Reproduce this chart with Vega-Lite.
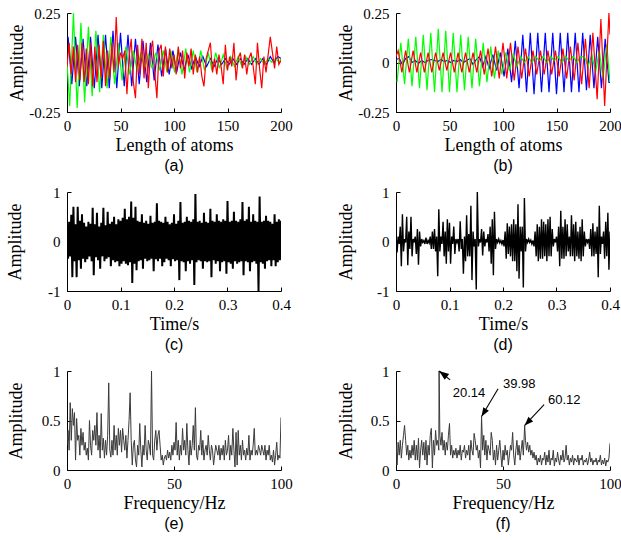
{
"$schema":"https://vega.github.io/schema/vega-lite/v6.json",
"background":"white",
"padding":{"left":6,"top":6,"right":0,"bottom":0},
"config":{
 "font":"Liberation Serif",
 "locale":{"number":{"decimal":".","thousands":",","grouping":[3],"currency":["$",""],"minus":"-"}},
 "view":{"stroke":null},
 "axis":{"grid":false,"domainColor":"#000","domainWidth":1,"tickColor":"#000","tickSize":-4,"tickWidth":1,"labelFont":"Liberation Serif","labelFontSize":15,"labelColor":"#000","titleFont":"Liberation Serif","titleFontSize":18,"titleFontWeight":"normal","titleColor":"#000","labelFlush":false,"labelOverlap":false},
 "axisX":{"labelPadding":10,"titlePadding":3},
 "axisY":{"labelPadding":11},
 "title":{"orient":"bottom","frame":"group","anchor":"middle","font":"Liberation Sans","fontSize":16,"fontWeight":"normal","color":"#000","offset":0}
},
"columns":2,
"spacing":{"row":11,"column":44},
"datasets":{
"a":[
{"x":1,"y":0.13,"s":"b"},{"x":4.5,"y":-0.11,"s":"b"},{"x":8,"y":0.13,"s":"b"},{"x":11.5,"y":-0.12,"s":"b"},{"x":15,"y":0.12,"s":"b"},{"x":18.5,"y":-0.12,"s":"b"},{"x":22,"y":0.13,"s":"b"},{"x":25.5,"y":-0.13,"s":"b"},{"x":29,"y":0.14,"s":"b"},{"x":32.5,"y":-0.13,"s":"b"},{"x":36,"y":0.14,"s":"b"},{"x":39.5,"y":-0.13,"s":"b"},{"x":43,"y":0.16,"s":"b"},{"x":46.5,"y":-0.13,"s":"b"},{"x":50,"y":0.15,"s":"b"},{"x":53.5,"y":-0.12,"s":"b"},{"x":57,"y":0.14,"s":"b"},{"x":60.5,"y":-0.12,"s":"b"},{"x":64,"y":0.12,"s":"b"},{"x":67.5,"y":-0.11,"s":"b"},{"x":71,"y":0.11,"s":"b"},{"x":74.5,"y":-0.1,"s":"b"},{"x":78,"y":0.1,"s":"b"},{"x":81.5,"y":-0.09,"s":"b"},{"x":85,"y":0.09,"s":"b"},{"x":88.5,"y":-0.07,"s":"b"},{"x":92,"y":0.07,"s":"b"},{"x":95.5,"y":-0.06,"s":"b"},{"x":99,"y":0.06,"s":"b"},{"x":102.5,"y":-0.05,"s":"b"},{"x":106,"y":0.05,"s":"b"},{"x":109.5,"y":-0.04,"s":"b"},{"x":113,"y":0.04,"s":"b"},{"x":116.5,"y":-0.03,"s":"b"},{"x":120,"y":0.03,"s":"b"},{"x":123.5,"y":-0.02,"s":"b"},{"x":127,"y":0.03,"s":"b"},{"x":130.5,"y":-0.02,"s":"b"},{"x":134,"y":0.02,"s":"b"},{"x":137.5,"y":-0.02,"s":"b"},{"x":141,"y":0.02,"s":"b"},{"x":144.5,"y":-0.01,"s":"b"},{"x":148,"y":0.02,"s":"b"},{"x":151.5,"y":-0.01,"s":"b"},{"x":155,"y":0.02,"s":"b"},{"x":158.5,"y":-0.01,"s":"b"},{"x":162,"y":0.02,"s":"b"},{"x":165.5,"y":-0.01,"s":"b"},{"x":169,"y":0.02,"s":"b"},{"x":172.5,"y":-0.01,"s":"b"},{"x":176,"y":0.02,"s":"b"},{"x":179.5,"y":-0.01,"s":"b"},{"x":183,"y":0.02,"s":"b"},{"x":186.5,"y":-0.01,"s":"b"},{"x":190,"y":0.03,"s":"b"},{"x":193.5,"y":0,"s":"b"},{"x":197,"y":0.03,"s":"b"},{"x":200,"y":0.02,"s":"b"},
{"x":0,"y":0,"s":"g"},{"x":2.5,"y":-0.22,"s":"g"},{"x":6,"y":0.25,"s":"g"},{"x":9.5,"y":-0.23,"s":"g"},{"x":13,"y":0.2,"s":"g"},{"x":16.5,"y":-0.2,"s":"g"},{"x":20,"y":0.18,"s":"g"},{"x":23.5,"y":-0.17,"s":"g"},{"x":27,"y":0.16,"s":"g"},{"x":30.5,"y":-0.15,"s":"g"},{"x":34,"y":0.14,"s":"g"},{"x":37.5,"y":-0.13,"s":"g"},{"x":41,"y":0.13,"s":"g"},{"x":44.5,"y":-0.11,"s":"g"},{"x":48,"y":0.1,"s":"g"},{"x":51.5,"y":-0.09,"s":"g"},{"x":55,"y":0.08,"s":"g"},{"x":58.5,"y":-0.06,"s":"g"},{"x":62,"y":0.06,"s":"g"},{"x":65.5,"y":-0.04,"s":"g"},{"x":69,"y":0.05,"s":"g"},{"x":72.5,"y":-0.03,"s":"g"},{"x":76,"y":0.04,"s":"g"},{"x":79.5,"y":-0.03,"s":"g"},{"x":83,"y":0.05,"s":"g"},{"x":86.5,"y":-0.04,"s":"g"},{"x":90,"y":0.06,"s":"g"},{"x":93.5,"y":-0.05,"s":"g"},{"x":97,"y":0.06,"s":"g"},{"x":100.5,"y":-0.05,"s":"g"},{"x":104,"y":0.07,"s":"g"},{"x":107.5,"y":-0.06,"s":"g"},{"x":111,"y":0.07,"s":"g"},{"x":114.5,"y":-0.05,"s":"g"},{"x":118,"y":0.06,"s":"g"},{"x":121.5,"y":-0.05,"s":"g"},{"x":125,"y":0.06,"s":"g"},{"x":128.5,"y":-0.04,"s":"g"},{"x":132,"y":0.05,"s":"g"},{"x":135.5,"y":-0.04,"s":"g"},{"x":139,"y":0.05,"s":"g"},{"x":142.5,"y":-0.03,"s":"g"},{"x":146,"y":0.04,"s":"g"},{"x":149.5,"y":-0.03,"s":"g"},{"x":153,"y":0.03,"s":"g"},{"x":156.5,"y":-0.02,"s":"g"},{"x":160,"y":0.03,"s":"g"},{"x":163.5,"y":-0.02,"s":"g"},{"x":167,"y":0.03,"s":"g"},{"x":170.5,"y":-0.01,"s":"g"},{"x":174,"y":0.03,"s":"g"},{"x":177.5,"y":-0.01,"s":"g"},{"x":181,"y":0.02,"s":"g"},{"x":184.5,"y":-0.01,"s":"g"},{"x":188,"y":0.02,"s":"g"},{"x":191.5,"y":0,"s":"g"},{"x":195,"y":0.02,"s":"g"},{"x":198.5,"y":0,"s":"g"},{"x":200,"y":0.02,"s":"g"},
{"x":0,"y":-0.02,"s":"r"},{"x":2,"y":0.1,"s":"r"},{"x":4,"y":-0.06,"s":"r"},{"x":6,"y":0.08,"s":"r"},{"x":8,"y":-0.1,"s":"r"},{"x":10,"y":0.09,"s":"r"},{"x":12,"y":-0.09,"s":"r"},{"x":14,"y":0.1,"s":"r"},{"x":16,"y":-0.1,"s":"r"},{"x":18,"y":0.07,"s":"r"},{"x":20,"y":-0.11,"s":"r"},{"x":22,"y":0.1,"s":"r"},{"x":24,"y":-0.12,"s":"r"},{"x":26,"y":0.08,"s":"r"},{"x":28,"y":-0.1,"s":"r"},{"x":30,"y":0.09,"s":"r"},{"x":32,"y":-0.08,"s":"r"},{"x":34,"y":0.11,"s":"r"},{"x":36,"y":-0.12,"s":"r"},{"x":38,"y":0.06,"s":"r"},{"x":40,"y":-0.08,"s":"r"},{"x":42,"y":0.1,"s":"r"},{"x":44,"y":-0.05,"s":"r"},{"x":46,"y":0.23,"s":"r"},{"x":48,"y":-0.02,"s":"r"},{"x":50,"y":0.05,"s":"r"},{"x":52,"y":0.02,"s":"r"},{"x":54,"y":0.06,"s":"r"},{"x":56,"y":-0.16,"s":"r"},{"x":58,"y":0.03,"s":"r"},{"x":60,"y":0.12,"s":"r"},{"x":62,"y":-0.1,"s":"r"},{"x":64,"y":-0.18,"s":"r"},{"x":66,"y":0.09,"s":"r"},{"x":68,"y":-0.06,"s":"r"},{"x":70,"y":0.12,"s":"r"},{"x":72,"y":-0.08,"s":"r"},{"x":74,"y":0.1,"s":"r"},{"x":76,"y":-0.13,"s":"r"},{"x":78,"y":0.05,"s":"r"},{"x":80,"y":0.11,"s":"r"},{"x":82,"y":-0.05,"s":"r"},{"x":84,"y":-0.18,"s":"r"},{"x":86,"y":0.06,"s":"r"},{"x":88,"y":0.09,"s":"r"},{"x":90,"y":-0.07,"s":"r"},{"x":92,"y":0.08,"s":"r"},{"x":94,"y":-0.05,"s":"r"},{"x":96,"y":0.07,"s":"r"},{"x":98,"y":-0.03,"s":"r"},{"x":100,"y":0.04,"s":"r"},{"x":102,"y":-0.06,"s":"r"},{"x":104,"y":0.08,"s":"r"},{"x":106,"y":-0.03,"s":"r"},{"x":108,"y":0.06,"s":"r"},{"x":110,"y":-0.08,"s":"r"},{"x":112,"y":0.05,"s":"r"},{"x":114,"y":-0.02,"s":"r"},{"x":116,"y":0.07,"s":"r"},{"x":118,"y":-0.06,"s":"r"},{"x":120,"y":0.04,"s":"r"},{"x":122,"y":-0.05,"s":"r"},{"x":124,"y":0.03,"s":"r"},{"x":126,"y":-0.07,"s":"r"},{"x":128,"y":-0.12,"s":"r"},{"x":130,"y":0.02,"s":"r"},{"x":132,"y":0.06,"s":"r"},{"x":134,"y":0.1,"s":"r"},{"x":136,"y":-0.05,"s":"r"},{"x":138,"y":0.02,"s":"r"},{"x":140,"y":-0.06,"s":"r"},{"x":142,"y":0.04,"s":"r"},{"x":144,"y":-0.02,"s":"r"},{"x":146,"y":-0.11,"s":"r"},{"x":148,"y":0.09,"s":"r"},{"x":150,"y":-0.04,"s":"r"},{"x":152,"y":0.03,"s":"r"},{"x":154,"y":-0.02,"s":"r"},{"x":156,"y":0.1,"s":"r"},{"x":158,"y":-0.09,"s":"r"},{"x":160,"y":0.02,"s":"r"},{"x":162,"y":0.05,"s":"r"},{"x":164,"y":-0.03,"s":"r"},{"x":166,"y":0.04,"s":"r"},{"x":168,"y":-0.06,"s":"r"},{"x":170,"y":0.02,"s":"r"},{"x":172,"y":0.05,"s":"r"},{"x":174,"y":-0.02,"s":"r"},{"x":176,"y":-0.11,"s":"r"},{"x":178,"y":0.1,"s":"r"},{"x":180,"y":-0.03,"s":"r"},{"x":182,"y":-0.13,"s":"r"},{"x":184,"y":0.03,"s":"r"},{"x":186,"y":-0.05,"s":"r"},{"x":188,"y":0.04,"s":"r"},{"x":190,"y":0.13,"s":"r"},{"x":192,"y":0.05,"s":"r"},{"x":194,"y":-0.03,"s":"r"},{"x":196,"y":0.08,"s":"r"},{"x":198,"y":-0.01,"s":"r"},{"x":200,"y":0.01,"s":"r"}
],
"b":[
{"x":0,"y":0.015,"s":"b"},{"x":3,"y":0.02,"s":"b"},{"x":6,"y":-0.01,"s":"b"},{"x":9,"y":0.02,"s":"b"},{"x":12,"y":0.03,"s":"b"},{"x":15,"y":0,"s":"b"},{"x":18,"y":0.01,"s":"b"},{"x":21,"y":-0.005,"s":"b"},{"x":24,"y":0.01,"s":"b"},{"x":27,"y":0,"s":"b"},{"x":30,"y":0.01,"s":"b"},{"x":33,"y":0.015,"s":"b"},{"x":36,"y":0.01,"s":"b"},{"x":39,"y":0.005,"s":"b"},{"x":42,"y":0.015,"s":"b"},{"x":45,"y":0.005,"s":"b"},{"x":48,"y":0.01,"s":"b"},{"x":51,"y":0,"s":"b"},{"x":54,"y":0.01,"s":"b"},{"x":57,"y":0.005,"s":"b"},{"x":60,"y":0.015,"s":"b"},{"x":63,"y":0,"s":"b"},{"x":66,"y":0.01,"s":"b"},{"x":69,"y":0.02,"s":"b"},{"x":72,"y":-0.01,"s":"b"},{"x":75,"y":0.015,"s":"b"},{"x":78,"y":0.03,"s":"b"},{"x":81,"y":-0.02,"s":"b"},{"x":84,"y":0.03,"s":"b"},{"x":87,"y":-0.03,"s":"b"},{"x":90.5,"y":0.04,"s":"b"},{"x":94,"y":-0.04,"s":"b"},{"x":97.5,"y":0.05,"s":"b"},{"x":101,"y":-0.07,"s":"b"},{"x":104.5,"y":0.07,"s":"b"},{"x":108,"y":-0.1,"s":"b"},{"x":111.5,"y":0.11,"s":"b"},{"x":115,"y":-0.13,"s":"b"},{"x":118.5,"y":0.14,"s":"b"},{"x":122,"y":-0.15,"s":"b"},{"x":125.5,"y":0.15,"s":"b"},{"x":129,"y":-0.16,"s":"b"},{"x":132.5,"y":0.15,"s":"b"},{"x":136,"y":-0.15,"s":"b"},{"x":139.5,"y":0.15,"s":"b"},{"x":143,"y":-0.15,"s":"b"},{"x":146.5,"y":0.15,"s":"b"},{"x":150,"y":-0.16,"s":"b"},{"x":153.5,"y":0.15,"s":"b"},{"x":157,"y":-0.15,"s":"b"},{"x":160.5,"y":0.15,"s":"b"},{"x":164,"y":-0.15,"s":"b"},{"x":167.5,"y":0.15,"s":"b"},{"x":171,"y":-0.15,"s":"b"},{"x":174.5,"y":0.15,"s":"b"},{"x":178,"y":-0.14,"s":"b"},{"x":181.5,"y":0.14,"s":"b"},{"x":185,"y":-0.13,"s":"b"},{"x":188.5,"y":0.13,"s":"b"},{"x":192,"y":-0.13,"s":"b"},{"x":195.5,"y":0.12,"s":"b"},{"x":199,"y":-0.1,"s":"b"},{"x":200,"y":-0.1,"s":"b"},
{"x":1,"y":-0.1,"s":"g"},{"x":4.5,"y":0.1,"s":"g"},{"x":8,"y":-0.11,"s":"g"},{"x":11.5,"y":0.12,"s":"g"},{"x":15,"y":-0.12,"s":"g"},{"x":18.5,"y":0.13,"s":"g"},{"x":22,"y":-0.13,"s":"g"},{"x":25.5,"y":0.14,"s":"g"},{"x":29,"y":-0.14,"s":"g"},{"x":32.5,"y":0.15,"s":"g"},{"x":36,"y":-0.15,"s":"g"},{"x":39.5,"y":0.17,"s":"g"},{"x":43,"y":-0.15,"s":"g"},{"x":46.5,"y":0.16,"s":"g"},{"x":50,"y":-0.15,"s":"g"},{"x":53.5,"y":0.15,"s":"g"},{"x":57,"y":-0.15,"s":"g"},{"x":60.5,"y":0.14,"s":"g"},{"x":64,"y":-0.14,"s":"g"},{"x":67.5,"y":0.13,"s":"g"},{"x":71,"y":-0.13,"s":"g"},{"x":74.5,"y":0.12,"s":"g"},{"x":78,"y":-0.12,"s":"g"},{"x":81.5,"y":0.1,"s":"g"},{"x":85,"y":-0.1,"s":"g"},{"x":88.5,"y":0.08,"s":"g"},{"x":92,"y":-0.08,"s":"g"},{"x":95.5,"y":0.06,"s":"g"},{"x":99,"y":-0.06,"s":"g"},{"x":102.5,"y":0.05,"s":"g"},{"x":106,"y":-0.04,"s":"g"},{"x":109.5,"y":0.04,"s":"g"},{"x":113,"y":-0.02,"s":"g"},{"x":116.5,"y":0.03,"s":"g"},{"x":120,"y":0,"s":"g"},{"x":123.5,"y":0.03,"s":"g"},{"x":127,"y":0,"s":"g"},{"x":130.5,"y":0.03,"s":"g"},{"x":134,"y":0.01,"s":"g"},{"x":137.5,"y":0.03,"s":"g"},{"x":141,"y":0,"s":"g"},{"x":144.5,"y":0.03,"s":"g"},{"x":148,"y":0.01,"s":"g"},{"x":151.5,"y":0.03,"s":"g"},{"x":155,"y":0,"s":"g"},{"x":158.5,"y":0.03,"s":"g"},{"x":162,"y":0.01,"s":"g"},{"x":165.5,"y":0.03,"s":"g"},{"x":169,"y":0,"s":"g"},{"x":172.5,"y":0.03,"s":"g"},{"x":176,"y":0.03,"s":"g"},{"x":179.5,"y":-0.02,"s":"g"},{"x":183,"y":0.04,"s":"g"},{"x":186.5,"y":-0.05,"s":"g"},{"x":190,"y":0.06,"s":"g"},{"x":193.5,"y":-0.08,"s":"g"},{"x":197,"y":0.09,"s":"g"},{"x":200,"y":-0.1,"s":"g"},
{"x":0,"y":0.03,"s":"r"},{"x":2,"y":0.06,"s":"r"},{"x":5.5,"y":-0.05,"s":"r"},{"x":9,"y":0.06,"s":"r"},{"x":12.5,"y":-0.05,"s":"r"},{"x":16,"y":0.06,"s":"r"},{"x":19.5,"y":-0.05,"s":"r"},{"x":23,"y":0.05,"s":"r"},{"x":26.5,"y":-0.05,"s":"r"},{"x":30,"y":0.05,"s":"r"},{"x":33.5,"y":-0.05,"s":"r"},{"x":37,"y":0.05,"s":"r"},{"x":40.5,"y":-0.04,"s":"r"},{"x":44,"y":0.05,"s":"r"},{"x":47.5,"y":-0.04,"s":"r"},{"x":51,"y":0.05,"s":"r"},{"x":54.5,"y":-0.05,"s":"r"},{"x":58,"y":0.05,"s":"r"},{"x":61.5,"y":-0.05,"s":"r"},{"x":65,"y":0.05,"s":"r"},{"x":68.5,"y":-0.05,"s":"r"},{"x":72,"y":0.05,"s":"r"},{"x":75.5,"y":-0.05,"s":"r"},{"x":79,"y":0.06,"s":"r"},{"x":82.5,"y":-0.06,"s":"r"},{"x":86,"y":0.07,"s":"r"},{"x":89.5,"y":-0.07,"s":"r"},{"x":93,"y":0.08,"s":"r"},{"x":96.5,"y":-0.08,"s":"r"},{"x":100,"y":0.1,"s":"r"},{"x":103.5,"y":-0.08,"s":"r"},{"x":107,"y":0.1,"s":"r"},{"x":110.5,"y":-0.09,"s":"r"},{"x":114,"y":0.08,"s":"r"},{"x":117.5,"y":-0.08,"s":"r"},{"x":121,"y":0.07,"s":"r"},{"x":124.5,"y":-0.07,"s":"r"},{"x":128,"y":0.06,"s":"r"},{"x":131.5,"y":-0.06,"s":"r"},{"x":135,"y":0.06,"s":"r"},{"x":138.5,"y":-0.06,"s":"r"},{"x":142,"y":0.06,"s":"r"},{"x":145.5,"y":-0.06,"s":"r"},{"x":149,"y":0.06,"s":"r"},{"x":152.5,"y":-0.07,"s":"r"},{"x":156,"y":0.07,"s":"r"},{"x":159.5,"y":-0.08,"s":"r"},{"x":163,"y":0.08,"s":"r"},{"x":166.5,"y":-0.09,"s":"r"},{"x":170,"y":0.1,"s":"r"},{"x":173.5,"y":-0.11,"s":"r"},{"x":177,"y":0.12,"s":"r"},{"x":180.5,"y":-0.13,"s":"r"},{"x":184,"y":0.15,"s":"r"},{"x":188,"y":-0.185,"s":"r"},{"x":191.5,"y":0.22,"s":"r"},{"x":195,"y":-0.22,"s":"r"},{"x":199,"y":0.25,"s":"r"},{"x":200,"y":0.14,"s":"r"}
],
"c":[
{"t":0,"v":0.3},{"t":0.002,"v":-0.35},{"t":0.004,"v":0.4},{"t":0.006,"v":-0.3},{"t":0.008,"v":0.54},{"t":0.01,"v":-0.72},{"t":0.012,"v":0.7},{"t":0.014,"v":-0.4},{"t":0.016,"v":0.35},{"t":0.018,"v":-0.72},{"t":0.02,"v":0.7},{"t":0.022,"v":-0.38},{"t":0.024,"v":0.42},{"t":0.026,"v":-0.55},{"t":0.028,"v":0.55},{"t":0.03,"v":-0.35},{"t":0.032,"v":0.38},{"t":0.034,"v":-0.42},{"t":0.036,"v":0.3},{"t":0.038,"v":-0.36},{"t":0.04,"v":0.4},{"t":0.042,"v":-0.3},{"t":0.044,"v":0.36},{"t":0.046,"v":-0.4},{"t":0.048,"v":0.68},{"t":0.05,"v":-0.68},{"t":0.052,"v":0.35},{"t":0.054,"v":-0.32},{"t":0.056,"v":0.58},{"t":0.058,"v":-0.38},{"t":0.06,"v":0.3},{"t":0.062,"v":-0.55},{"t":0.064,"v":0.38},{"t":0.066,"v":-0.3},{"t":0.068,"v":0.68},{"t":0.07,"v":-0.4},{"t":0.072,"v":0.33},{"t":0.074,"v":-0.35},{"t":0.076,"v":0.6},{"t":0.078,"v":-0.32},{"t":0.08,"v":0.36},{"t":0.082,"v":-0.5},{"t":0.084,"v":0.4},{"t":0.086,"v":-0.38},{"t":0.088,"v":0.5},{"t":0.09,"v":-0.42},{"t":0.092,"v":0.35},{"t":0.094,"v":-0.4},{"t":0.096,"v":0.45},{"t":0.098,"v":-0.5},{"t":0.1,"v":0.42},{"t":0.102,"v":-0.45},{"t":0.104,"v":0.48},{"t":0.106,"v":-0.4},{"t":0.108,"v":0.66},{"t":0.11,"v":-0.45},{"t":0.112,"v":0.45},{"t":0.114,"v":-0.48},{"t":0.116,"v":0.5},{"t":0.118,"v":-0.42},{"t":0.12,"v":0.81},{"t":0.122,"v":-0.84},{"t":0.124,"v":0.48},{"t":0.126,"v":-0.45},{"t":0.128,"v":0.7},{"t":0.13,"v":-0.58},{"t":0.132,"v":0.42},{"t":0.134,"v":-0.4},{"t":0.136,"v":0.4},{"t":0.138,"v":-0.38},{"t":0.14,"v":0.55},{"t":0.142,"v":-0.55},{"t":0.144,"v":0.38},{"t":0.146,"v":-0.35},{"t":0.148,"v":0.42},{"t":0.15,"v":-0.4},{"t":0.152,"v":0.36},{"t":0.154,"v":-0.38},{"t":0.156,"v":0.52},{"t":0.158,"v":-0.35},{"t":0.16,"v":0.38},{"t":0.162,"v":-0.6},{"t":0.164,"v":0.4},{"t":0.166,"v":-0.36},{"t":0.168,"v":0.77},{"t":0.17,"v":-0.4},{"t":0.172,"v":0.42},{"t":0.174,"v":-0.35},{"t":0.176,"v":0.4},{"t":0.178,"v":-0.5},{"t":0.18,"v":0.38},{"t":0.182,"v":-0.42},{"t":0.184,"v":0.5},{"t":0.186,"v":-0.35},{"t":0.188,"v":0.4},{"t":0.19,"v":-0.38},{"t":0.192,"v":0.35},{"t":0.194,"v":-0.5},{"t":0.196,"v":0.38},{"t":0.198,"v":-0.36},{"t":0.2,"v":0.55},{"t":0.202,"v":-0.4},{"t":0.204,"v":0.36},{"t":0.206,"v":-0.38},{"t":0.208,"v":0.42},{"t":0.21,"v":-0.78},{"t":0.212,"v":0.8},{"t":0.214,"v":-0.4},{"t":0.216,"v":0.38},{"t":0.218,"v":-0.42},{"t":0.22,"v":0.4},{"t":0.222,"v":-0.6},{"t":0.224,"v":0.5},{"t":0.226,"v":-0.4},{"t":0.228,"v":0.42},{"t":0.23,"v":-0.45},{"t":0.232,"v":0.4},{"t":0.234,"v":-0.38},{"t":0.236,"v":0.45},{"t":0.238,"v":-0.88},{"t":0.24,"v":0.96},{"t":0.242,"v":-0.42},{"t":0.244,"v":0.4},{"t":0.246,"v":-0.38},{"t":0.248,"v":0.42},{"t":0.25,"v":-0.4},{"t":0.252,"v":0.38},{"t":0.254,"v":-0.55},{"t":0.256,"v":0.58},{"t":0.258,"v":-0.4},{"t":0.26,"v":0.4},{"t":0.262,"v":-0.42},{"t":0.264,"v":0.38},{"t":0.266,"v":-0.4},{"t":0.268,"v":0.66},{"t":0.27,"v":-0.72},{"t":0.272,"v":0.42},{"t":0.274,"v":-0.38},{"t":0.276,"v":0.4},{"t":0.278,"v":-0.45},{"t":0.28,"v":0.55},{"t":0.282,"v":-0.4},{"t":0.284,"v":0.42},{"t":0.286,"v":-0.6},{"t":0.288,"v":0.4},{"t":0.29,"v":-0.42},{"t":0.292,"v":0.45},{"t":0.294,"v":-0.4},{"t":0.296,"v":0.42},{"t":0.298,"v":-0.65},{"t":0.3,"v":0.82},{"t":0.302,"v":-0.42},{"t":0.304,"v":0.4},{"t":0.306,"v":-0.45},{"t":0.308,"v":0.42},{"t":0.31,"v":-0.55},{"t":0.312,"v":0.6},{"t":0.314,"v":-0.4},{"t":0.316,"v":0.42},{"t":0.318,"v":-0.45},{"t":0.32,"v":0.4},{"t":0.322,"v":-0.42},{"t":0.324,"v":0.45},{"t":0.326,"v":-0.4},{"t":0.328,"v":0.8},{"t":0.33,"v":-0.68},{"t":0.332,"v":0.42},{"t":0.334,"v":-0.4},{"t":0.336,"v":0.45},{"t":0.338,"v":-0.42},{"t":0.34,"v":0.7},{"t":0.342,"v":-0.6},{"t":0.344,"v":0.4},{"t":0.346,"v":-0.42},{"t":0.348,"v":0.55},{"t":0.35,"v":-0.4},{"t":0.352,"v":0.42},{"t":0.354,"v":-0.45},{"t":0.356,"v":0.4},{"t":0.358,"v":-1},{"t":0.36,"v":0.91},{"t":0.362,"v":-0.42},{"t":0.364,"v":0.4},{"t":0.366,"v":-0.45},{"t":0.368,"v":0.42},{"t":0.37,"v":-0.55},{"t":0.372,"v":0.52},{"t":0.374,"v":-0.4},{"t":0.376,"v":0.42},{"t":0.378,"v":-0.38},{"t":0.38,"v":0.4},{"t":0.382,"v":-0.5},{"t":0.384,"v":0.36},{"t":0.386,"v":-0.38},{"t":0.388,"v":0.55},{"t":0.39,"v":-0.5},{"t":0.392,"v":0.4},{"t":0.394,"v":-0.42},{"t":0.396,"v":0.45},{"t":0.398,"v":-0.38},{"t":0.4,"v":0.42}
],
"d":[
{"t":0,"v":0.15},{"t":0.002,"v":-0.22},{"t":0.004,"v":0.1},{"t":0.006,"v":-0.05},{"t":0.008,"v":0.3},{"t":0.01,"v":-0.5},{"t":0.012,"v":0.55},{"t":0.014,"v":-0.2},{"t":0.016,"v":0.05},{"t":0.018,"v":-0.02},{"t":0.02,"v":0.5},{"t":0.022,"v":-0.48},{"t":0.024,"v":0.2},{"t":0.026,"v":-0.15},{"t":0.028,"v":0.5},{"t":0.03,"v":-0.3},{"t":0.032,"v":0.05},{"t":0.034,"v":-0.02},{"t":0.036,"v":0.1},{"t":0.038,"v":-0.25},{"t":0.04,"v":0.25},{"t":0.042,"v":-0.47},{"t":0.044,"v":0.2},{"t":0.046,"v":-0.1},{"t":0.048,"v":0.05},{"t":0.05,"v":-0.02},{"t":0.052,"v":0.02},{"t":0.054,"v":-0.05},{"t":0.056,"v":0.08},{"t":0.058,"v":-0.05},{"t":0.06,"v":0.02},{"t":0.062,"v":-0.03},{"t":0.064,"v":0.1},{"t":0.066,"v":-0.15},{"t":0.068,"v":0.2},{"t":0.07,"v":-0.15},{"t":0.072,"v":0.25},{"t":0.074,"v":-0.2},{"t":0.076,"v":0.1},{"t":0.078,"v":-0.7},{"t":0.08,"v":0.65},{"t":0.082,"v":-0.2},{"t":0.084,"v":0.1},{"t":0.086,"v":-0.05},{"t":0.088,"v":0.4},{"t":0.09,"v":-0.3},{"t":0.092,"v":0.2},{"t":0.094,"v":-0.45},{"t":0.096,"v":0.45},{"t":0.098,"v":-0.2},{"t":0.1,"v":0.38},{"t":0.102,"v":-0.45},{"t":0.104,"v":0.1},{"t":0.106,"v":-0.05},{"t":0.108,"v":0.3},{"t":0.11,"v":-0.25},{"t":0.112,"v":0.05},{"t":0.114,"v":-0.02},{"t":0.116,"v":0.05},{"t":0.118,"v":-0.2},{"t":0.12,"v":0.41},{"t":0.122,"v":-0.15},{"t":0.124,"v":0.05},{"t":0.126,"v":-0.65},{"t":0.128,"v":0.1},{"t":0.13,"v":-0.4},{"t":0.132,"v":0.53},{"t":0.134,"v":-0.3},{"t":0.136,"v":0.15},{"t":0.138,"v":-0.3},{"t":0.14,"v":0.72},{"t":0.142,"v":-0.78},{"t":0.144,"v":0.2},{"t":0.146,"v":-0.1},{"t":0.148,"v":0.05},{"t":0.15,"v":-0.97},{"t":0.152,"v":1},{"t":0.154,"v":-0.1},{"t":0.156,"v":0.05},{"t":0.158,"v":-0.02},{"t":0.16,"v":0.25},{"t":0.162,"v":-0.28},{"t":0.164,"v":0.2},{"t":0.166,"v":-0.1},{"t":0.168,"v":0.05},{"t":0.17,"v":-0.02},{"t":0.172,"v":0.15},{"t":0.174,"v":-0.2},{"t":0.176,"v":0.3},{"t":0.178,"v":-0.45},{"t":0.18,"v":0.45},{"t":0.182,"v":-0.68},{"t":0.184,"v":0.6},{"t":0.186,"v":-0.15},{"t":0.188,"v":0.05},{"t":0.19,"v":-0.02},{"t":0.192,"v":0.05},{"t":0.194,"v":-0.03},{"t":0.196,"v":0.02},{"t":0.198,"v":-0.05},{"t":0.2,"v":0.03},{"t":0.202,"v":-0.1},{"t":0.204,"v":0.2},{"t":0.206,"v":-0.35},{"t":0.208,"v":0.37},{"t":0.21,"v":-0.25},{"t":0.212,"v":0.3},{"t":0.214,"v":-0.3},{"t":0.216,"v":0.35},{"t":0.218,"v":-0.4},{"t":0.22,"v":0.45},{"t":0.222,"v":-0.4},{"t":0.224,"v":0.35},{"t":0.226,"v":-0.6},{"t":0.228,"v":0.75},{"t":0.23,"v":-0.75},{"t":0.232,"v":0.3},{"t":0.234,"v":-0.2},{"t":0.236,"v":0.3},{"t":0.238,"v":-0.93},{"t":0.24,"v":0.88},{"t":0.242,"v":-0.2},{"t":0.244,"v":0.05},{"t":0.246,"v":-0.02},{"t":0.248,"v":0.05},{"t":0.25,"v":-0.02},{"t":0.252,"v":0.03},{"t":0.254,"v":-0.05},{"t":0.256,"v":0.02},{"t":0.258,"v":-0.1},{"t":0.26,"v":0.2},{"t":0.262,"v":-0.3},{"t":0.264,"v":0.35},{"t":0.266,"v":-0.4},{"t":0.268,"v":0.3},{"t":0.27,"v":-0.35},{"t":0.272,"v":0.45},{"t":0.274,"v":-0.35},{"t":0.276,"v":0.4},{"t":0.278,"v":-0.3},{"t":0.28,"v":0.35},{"t":0.282,"v":-0.4},{"t":0.284,"v":0.45},{"t":0.286,"v":-0.3},{"t":0.288,"v":0.5},{"t":0.29,"v":-0.3},{"t":0.292,"v":0.25},{"t":0.294,"v":-0.1},{"t":0.296,"v":0.05},{"t":0.298,"v":-0.02},{"t":0.3,"v":0.1},{"t":0.302,"v":-0.2},{"t":0.304,"v":0.3},{"t":0.306,"v":-0.5},{"t":0.308,"v":0.62},{"t":0.31,"v":-0.35},{"t":0.312,"v":0.3},{"t":0.314,"v":-0.35},{"t":0.316,"v":0.45},{"t":0.318,"v":-0.3},{"t":0.32,"v":0.35},{"t":0.322,"v":-0.2},{"t":0.324,"v":0.1},{"t":0.326,"v":-0.3},{"t":0.328,"v":0.53},{"t":0.33,"v":-0.3},{"t":0.332,"v":0.35},{"t":0.334,"v":-0.4},{"t":0.336,"v":0.4},{"t":0.338,"v":-0.3},{"t":0.34,"v":0.2},{"t":0.342,"v":-0.35},{"t":0.344,"v":0.3},{"t":0.346,"v":-0.4},{"t":0.348,"v":0.45},{"t":0.35,"v":-0.3},{"t":0.352,"v":0.2},{"t":0.354,"v":-0.1},{"t":0.356,"v":0.05},{"t":0.358,"v":-0.02},{"t":0.36,"v":0.05},{"t":0.362,"v":-0.15},{"t":0.364,"v":0.25},{"t":0.366,"v":-0.3},{"t":0.368,"v":0.37},{"t":0.37,"v":-0.3},{"t":0.372,"v":0.2},{"t":0.374,"v":-0.25},{"t":0.376,"v":0.3},{"t":0.378,"v":-0.72},{"t":0.38,"v":0.72},{"t":0.382,"v":-0.25},{"t":0.384,"v":0.1},{"t":0.386,"v":-0.05},{"t":0.388,"v":0.2},{"t":0.39,"v":-0.35},{"t":0.392,"v":0.4},{"t":0.394,"v":-0.3},{"t":0.396,"v":0.58},{"t":0.398,"v":-0.57},{"t":0.4,"v":0.2}
],
"e":[
{"f":0,"y":0.25},{"f":0.5,"y":0.4},{"f":1,"y":0.2},{"f":1.5,"y":0.68},{"f":2,"y":0.3},{"f":2.5,"y":0.62},{"f":3,"y":0.45},{"f":3.5,"y":0.58},{"f":4,"y":0.1},{"f":4.5,"y":0.52},{"f":5,"y":0.3},{"f":5.5,"y":0.35},{"f":6,"y":0.15},{"f":6.5,"y":0.42},{"f":7,"y":0.25},{"f":7.5,"y":0.38},{"f":8,"y":0.2},{"f":8.5,"y":0.28},{"f":9,"y":0.15},{"f":9.5,"y":0.22},{"f":10,"y":0.1},{"f":10.5,"y":0.5},{"f":11,"y":0.25},{"f":11.5,"y":0.15},{"f":12,"y":0.4},{"f":12.5,"y":0.3},{"f":13,"y":0.45},{"f":13.5,"y":0.25},{"f":14,"y":0.58},{"f":14.5,"y":0.2},{"f":15,"y":0.35},{"f":15.5,"y":0.12},{"f":16,"y":0.57},{"f":16.5,"y":0.2},{"f":17,"y":0.32},{"f":17.5,"y":0.12},{"f":18,"y":0.3},{"f":18.5,"y":0.15},{"f":19,"y":0.35},{"f":19.5,"y":0.88},{"f":20,"y":0.2},{"f":20.5,"y":0.13},{"f":21,"y":0.3},{"f":21.5,"y":0.15},{"f":22,"y":0.45},{"f":22.5,"y":0.2},{"f":23,"y":0.35},{"f":23.5,"y":0.15},{"f":24,"y":0.42},{"f":24.5,"y":0.25},{"f":25,"y":0.4},{"f":25.5,"y":0.18},{"f":26,"y":0.42},{"f":26.5,"y":0.3},{"f":27,"y":0.2},{"f":27.5,"y":0.35},{"f":28,"y":0.12},{"f":28.5,"y":0.3},{"f":29,"y":0.5},{"f":29.5,"y":0.78},{"f":30,"y":0.3},{"f":30.5,"y":0.05},{"f":31,"y":0.25},{"f":31.5,"y":0.3},{"f":32,"y":0.1},{"f":32.5,"y":0.03},{"f":33,"y":0.25},{"f":33.5,"y":0.15},{"f":34,"y":0.47},{"f":34.5,"y":0.2},{"f":35,"y":0.03},{"f":35.5,"y":0.25},{"f":36,"y":0.15},{"f":36.5,"y":0.45},{"f":37,"y":0.2},{"f":37.5,"y":0.1},{"f":38,"y":0.3},{"f":38.5,"y":0.25},{"f":39,"y":0.15},{"f":39.5,"y":1},{"f":40,"y":0.15},{"f":40.5,"y":0.1},{"f":41,"y":0.3},{"f":41.5,"y":0.4},{"f":42,"y":0.2},{"f":42.5,"y":0.35},{"f":43,"y":0.4},{"f":43.5,"y":0.25},{"f":44,"y":0.1},{"f":44.5,"y":0.15},{"f":45,"y":0.05},{"f":45.5,"y":0.12},{"f":46,"y":0.15},{"f":46.5,"y":0.1},{"f":47,"y":0.2},{"f":47.5,"y":0.12},{"f":48,"y":0.18},{"f":48.5,"y":0.1},{"f":49,"y":0.25},{"f":49.5,"y":0.15},{"f":50,"y":0.28},{"f":50.5,"y":0.2},{"f":51,"y":0.48},{"f":51.5,"y":0.15},{"f":52,"y":0.3},{"f":52.5,"y":0.1},{"f":53,"y":0.25},{"f":53.5,"y":0.15},{"f":54,"y":0.42},{"f":54.5,"y":0.2},{"f":55,"y":0.3},{"f":55.5,"y":0.15},{"f":56,"y":0.47},{"f":56.5,"y":0.2},{"f":57,"y":0.05},{"f":57.5,"y":0.3},{"f":58,"y":0.15},{"f":58.5,"y":0.25},{"f":59,"y":0.45},{"f":59.5,"y":0.2},{"f":60,"y":0.63},{"f":60.5,"y":0.15},{"f":61,"y":0.1},{"f":61.5,"y":0.25},{"f":62,"y":0.2},{"f":62.5,"y":0.4},{"f":63,"y":0.15},{"f":63.5,"y":0.3},{"f":64,"y":0.1},{"f":64.5,"y":0.2},{"f":65,"y":0.25},{"f":65.5,"y":0.15},{"f":66,"y":0.35},{"f":66.5,"y":0.2},{"f":67,"y":0.1},{"f":67.5,"y":0.25},{"f":68,"y":0.2},{"f":68.5,"y":0.05},{"f":69,"y":0.15},{"f":69.5,"y":0.25},{"f":70,"y":0.2},{"f":70.5,"y":0.15},{"f":71,"y":0.25},{"f":71.5,"y":0.1},{"f":72,"y":0.22},{"f":72.5,"y":0.15},{"f":73,"y":0.25},{"f":73.5,"y":0.1},{"f":74,"y":0.3},{"f":74.5,"y":0.15},{"f":75,"y":0.2},{"f":75.5,"y":0.35},{"f":76,"y":0.1},{"f":76.5,"y":0.25},{"f":77,"y":0.15},{"f":77.5,"y":0.42},{"f":78,"y":0.2},{"f":78.5,"y":0.03},{"f":79,"y":0.38},{"f":79.5,"y":0.05},{"f":80,"y":0.4},{"f":80.5,"y":0.15},{"f":81,"y":0.25},{"f":81.5,"y":0.1},{"f":82,"y":0.3},{"f":82.5,"y":0.15},{"f":83,"y":0.2},{"f":83.5,"y":0.1},{"f":84,"y":0.22},{"f":84.5,"y":0.15},{"f":85,"y":0.35},{"f":85.5,"y":0.1},{"f":86,"y":0.2},{"f":86.5,"y":0.15},{"f":87,"y":0.25},{"f":87.5,"y":0.42},{"f":88,"y":0.15},{"f":88.5,"y":0.2},{"f":89,"y":0.15},{"f":89.5,"y":0.25},{"f":90,"y":0.2},{"f":90.5,"y":0.15},{"f":91,"y":0.25},{"f":91.5,"y":0.2},{"f":92,"y":0.15},{"f":92.5,"y":0.25},{"f":93,"y":0.1},{"f":93.5,"y":0.2},{"f":94,"y":0.15},{"f":94.5,"y":0.25},{"f":95,"y":0.1},{"f":95.5,"y":0.15},{"f":96,"y":0.08},{"f":96.5,"y":0.2},{"f":97,"y":0.05},{"f":97.5,"y":0.15},{"f":98,"y":0.28},{"f":98.5,"y":0.1},{"f":99,"y":0.15},{"f":99.5,"y":0.12},{"f":100,"y":0.53}
],
"f":[
{"f":0,"y":0.3},{"f":0.5,"y":0.05},{"f":1,"y":0.28},{"f":1.5,"y":0.15},{"f":2,"y":0.3},{"f":2.5,"y":0.12},{"f":3,"y":0.25},{"f":3.5,"y":0.35},{"f":4,"y":0.45},{"f":4.5,"y":0.3},{"f":5,"y":0.15},{"f":5.5,"y":0.25},{"f":6,"y":0.1},{"f":6.5,"y":0.2},{"f":7,"y":0.12},{"f":7.5,"y":0.25},{"f":8,"y":0.15},{"f":8.5,"y":0.3},{"f":9,"y":0.1},{"f":9.5,"y":0.25},{"f":10,"y":0.1},{"f":10.5,"y":0.32},{"f":11,"y":0.02},{"f":11.5,"y":0.2},{"f":12,"y":0.3},{"f":12.5,"y":0.15},{"f":13,"y":0.28},{"f":13.5,"y":0.1},{"f":14,"y":0.3},{"f":14.5,"y":0.05},{"f":15,"y":0.25},{"f":15.5,"y":0.15},{"f":16,"y":0.35},{"f":16.5,"y":0.42},{"f":17,"y":0.02},{"f":17.5,"y":0.3},{"f":18,"y":0.15},{"f":18.5,"y":0.4},{"f":19,"y":0.25},{"f":19.5,"y":0.3},{"f":20,"y":0.2},{"f":20.14,"y":1},{"f":20.5,"y":0.35},{"f":21,"y":0.25},{"f":21.5,"y":0.38},{"f":22,"y":0.2},{"f":22.5,"y":0.3},{"f":23,"y":0.15},{"f":23.5,"y":0.28},{"f":24,"y":0.2},{"f":24.5,"y":0.35},{"f":25,"y":0.47},{"f":25.5,"y":0.15},{"f":26,"y":0.25},{"f":26.5,"y":0.12},{"f":27,"y":0.2},{"f":27.5,"y":0.15},{"f":28,"y":0.22},{"f":28.5,"y":0.12},{"f":29,"y":0.2},{"f":29.5,"y":0.15},{"f":30,"y":0.25},{"f":30.5,"y":0.1},{"f":31,"y":0.2},{"f":31.5,"y":0.18},{"f":32,"y":0.25},{"f":32.5,"y":0.12},{"f":33,"y":0.2},{"f":33.5,"y":0.15},{"f":34,"y":0.25},{"f":34.5,"y":0.1},{"f":35,"y":0.3},{"f":35.5,"y":0.2},{"f":36,"y":0.15},{"f":36.5,"y":0.37},{"f":37,"y":0.3},{"f":37.5,"y":0.2},{"f":38,"y":0.25},{"f":38.5,"y":0.12},{"f":39,"y":0.2},{"f":39.5,"y":0.02},{"f":39.98,"y":0.54},{"f":40.5,"y":0.2},{"f":41,"y":0.35},{"f":41.5,"y":0.15},{"f":42,"y":0.3},{"f":42.5,"y":0.1},{"f":43,"y":0.25},{"f":43.5,"y":0.2},{"f":44,"y":0.15},{"f":44.5,"y":0.38},{"f":45,"y":0.3},{"f":45.5,"y":0.1},{"f":46,"y":0.2},{"f":46.5,"y":0.05},{"f":47,"y":0.25},{"f":47.5,"y":0.1},{"f":48,"y":0.2},{"f":48.5,"y":0.3},{"f":49,"y":0.15},{"f":49.5,"y":0.03},{"f":50,"y":0.2},{"f":50.5,"y":0.1},{"f":51,"y":0.25},{"f":51.5,"y":0.15},{"f":52,"y":0.2},{"f":52.5,"y":0.05},{"f":53,"y":0.15},{"f":53.5,"y":0.25},{"f":54,"y":0.2},{"f":54.5,"y":0.38},{"f":55,"y":0.15},{"f":55.5,"y":0.05},{"f":56,"y":0.2},{"f":56.5,"y":0.3},{"f":57,"y":0.15},{"f":57.5,"y":0.25},{"f":58,"y":0.1},{"f":58.5,"y":0.2},{"f":59,"y":0.3},{"f":59.5,"y":0.15},{"f":60.12,"y":0.45},{"f":60.5,"y":0.3},{"f":61,"y":0.2},{"f":61.5,"y":0.28},{"f":62,"y":0.18},{"f":62.5,"y":0.25},{"f":63,"y":0.15},{"f":63.5,"y":0.2},{"f":64,"y":0.12},{"f":64.5,"y":0.18},{"f":65,"y":0.1},{"f":65.5,"y":0.15},{"f":66,"y":0.05},{"f":66.5,"y":0.12},{"f":67,"y":0.08},{"f":67.5,"y":0.15},{"f":68,"y":0.05},{"f":68.5,"y":0.12},{"f":69,"y":0.1},{"f":69.5,"y":0.18},{"f":70,"y":0.05},{"f":70.5,"y":0.15},{"f":71,"y":0.08},{"f":71.5,"y":0.2},{"f":72,"y":0.05},{"f":72.5,"y":0.12},{"f":73,"y":0.1},{"f":73.5,"y":0.2},{"f":74,"y":0.04},{"f":74.5,"y":0.12},{"f":75,"y":0.08},{"f":75.5,"y":0.18},{"f":76,"y":0.1},{"f":76.5,"y":0.05},{"f":77,"y":0.15},{"f":77.5,"y":0.1},{"f":78,"y":0.2},{"f":78.5,"y":0.08},{"f":79,"y":0.12},{"f":79.5,"y":0.25},{"f":80,"y":0.1},{"f":80.5,"y":0.15},{"f":81,"y":0.05},{"f":81.5,"y":0.12},{"f":82,"y":0.08},{"f":82.5,"y":0.15},{"f":83,"y":0.05},{"f":83.5,"y":0.12},{"f":84,"y":0.1},{"f":84.5,"y":0.08},{"f":85,"y":0.15},{"f":85.5,"y":0.05},{"f":86,"y":0.12},{"f":86.5,"y":0.1},{"f":87,"y":0.15},{"f":87.5,"y":0.05},{"f":88,"y":0.1},{"f":88.5,"y":0.08},{"f":89,"y":0.12},{"f":89.5,"y":0.05},{"f":90,"y":0.1},{"f":90.5,"y":0.18},{"f":91,"y":0.08},{"f":91.5,"y":0.12},{"f":92,"y":0.05},{"f":92.5,"y":0.1},{"f":93,"y":0.08},{"f":93.5,"y":0.12},{"f":94,"y":0.05},{"f":94.5,"y":0.1},{"f":95,"y":0.08},{"f":95.5,"y":0.15},{"f":96,"y":0.05},{"f":96.5,"y":0.1},{"f":97,"y":0.06},{"f":97.5,"y":0.12},{"f":98,"y":0.04},{"f":98.5,"y":0.1},{"f":99,"y":0.08},{"f":99.5,"y":0.12},{"f":100,"y":0.27}
],
"n":[
{"peak":"20.14","f":20.14,"y":1,"tf":25.3,"ty":0.91,"lf":26.5,"ly":0.78},
{"peak":"39.98","f":39.98,"y":0.54,"tf":47.7,"ty":0.82,"lf":50,"ly":0.87},
{"peak":"60.12","f":60.12,"y":0.45,"tf":69.2,"ty":0.66,"lf":71,"ly":0.71}
]
},
"concat":[
{"width":214,"height":99,"title":{"text":"(a)"},"data":{"name":"a"},"mark":{"type":"line","strokeWidth":1.2,"clip":true},
 "encoding":{
  "x":{"field":"x","type":"quantitative","scale":{"domain":[0,200],"nice":false},"axis":{"values":[0,50,100,150,200],"format":".6~g","title":"Length of atoms"}},
  "y":{"field":"y","type":"quantitative","scale":{"domain":[-0.25,0.25],"nice":false},"axis":{"values":[-0.25,0.25],"format":".6~g","title":"Amplitude","titlePadding":2}},
  "color":{"field":"s","type":"nominal","scale":{"domain":["b","g","r"],"range":["#0000ff","#00ff00","#ff0000"]},"legend":null}}},
{"width":214,"height":99,"title":{"text":"(b)"},"data":{"name":"b"},"mark":{"type":"line","strokeWidth":1.2,"clip":true},
 "encoding":{
  "x":{"field":"x","type":"quantitative","scale":{"domain":[0,200],"nice":false},"axis":{"values":[0,50,100,150,200],"format":".6~g","title":"Length of atoms"}},
  "y":{"field":"y","type":"quantitative","scale":{"domain":[-0.25,0.25],"nice":false},"axis":{"values":[-0.25,0,0.25],"format":".6~g","title":"Amplitude","titlePadding":2}},
  "color":{"field":"s","type":"nominal","scale":{"domain":["b","g","r"],"range":["#0000ff","#00ff00","#ff0000"]},"legend":null}}},
{"width":214,"height":99,"title":{"text":"(c)"},"data":{"name":"c"},"mark":{"type":"line","strokeWidth":2,"color":"#000","clip":true},
 "encoding":{
  "x":{"field":"t","type":"quantitative","scale":{"domain":[0,0.4],"nice":false},"axis":{"values":[0,0.1,0.2,0.3,0.4],"format":".6~g","title":"Time/s"}},
  "y":{"field":"v","type":"quantitative","scale":{"domain":[-1,1],"nice":false},"axis":{"values":[-1,0,1],"format":".6~g","title":"Amplitude","titlePadding":23}}}},
{"width":214,"height":99,"title":{"text":"(d)"},"data":{"name":"d"},"mark":{"type":"line","strokeWidth":1.4,"color":"#000","clip":true},
 "encoding":{
  "x":{"field":"t","type":"quantitative","scale":{"domain":[0,0.4],"nice":false},"axis":{"values":[0,0.1,0.2,0.3,0.4],"format":".6~g","title":"Time/s"}},
  "y":{"field":"v","type":"quantitative","scale":{"domain":[-1,1],"nice":false},"axis":{"values":[-1,0,1],"format":".6~g","title":"Amplitude","titlePadding":21}}}},
{"width":214,"height":99,"title":{"text":"(e)"},"data":{"name":"e"},"mark":{"type":"line","strokeWidth":1,"color":"#3a3a3a","clip":true},
 "encoding":{
  "x":{"field":"f","type":"quantitative","scale":{"domain":[0,100],"nice":false},"axis":{"values":[0,50,100],"format":".6~g","title":"Frequency/Hz"}},
  "y":{"field":"y","type":"quantitative","scale":{"domain":[0,1],"nice":false},"axis":{"values":[0,0.5,1],"format":".6~g","title":"Amplitude","titlePadding":16}}}},
{"width":214,"height":99,"title":{"text":"(f)"},
 "layer":[
  {"data":{"name":"f"},"mark":{"type":"line","strokeWidth":1,"color":"#3a3a3a","clip":true},
   "encoding":{
    "x":{"field":"f","type":"quantitative","scale":{"domain":[0,100],"nice":false},"axis":{"values":[0,50,100],"format":".6~g","title":"Frequency/Hz"}},
    "y":{"field":"y","type":"quantitative","scale":{"domain":[0,1],"nice":false},"axis":{"values":[0,0.5,1],"format":".6~g","title":"Amplitude","titlePadding":15}}}},
  {"data":{"name":"n"},"mark":{"type":"rule","color":"#000","strokeWidth":1.1},
   "encoding":{"x":{"field":"tf","type":"quantitative"},"y":{"field":"ty","type":"quantitative"},"x2":{"field":"f"},"y2":{"field":"y"}}},
  {"data":{"name":"n"},"mark":{"type":"text","font":"Liberation Sans","fontSize":13,"align":"left","baseline":"middle","color":"#000"},
   "encoding":{"x":{"field":"lf","type":"quantitative"},"y":{"field":"ly","type":"quantitative"},"text":{"field":"peak"}}},
  {"data":{"name":"n"},"transform":[{"filter":"datum.peak=='20.14'"}],"mark":{"type":"point","shape":"M0,0L-0.6,1.6L0.6,1.6Z","filled":true,"color":"#000","opacity":1,"size":150,"angle":307},
   "encoding":{"x":{"field":"f","type":"quantitative"},"y":{"field":"y","type":"quantitative"}}},
  {"data":{"name":"n"},"transform":[{"filter":"datum.peak=='39.98'"}],"mark":{"type":"point","shape":"M0,0L-0.6,1.6L0.6,1.6Z","filled":true,"color":"#000","opacity":1,"size":120,"angle":211},
   "encoding":{"x":{"field":"f","type":"quantitative"},"y":{"field":"y","type":"quantitative"}}},
  {"data":{"name":"n"},"transform":[{"filter":"datum.peak=='60.12'"}],"mark":{"type":"point","shape":"M0,0L-0.6,1.6L0.6,1.6Z","filled":true,"color":"#000","opacity":1,"size":120,"angle":224},
   "encoding":{"x":{"field":"f","type":"quantitative"},"y":{"field":"y","type":"quantitative"}}}
 ]}
]
}
